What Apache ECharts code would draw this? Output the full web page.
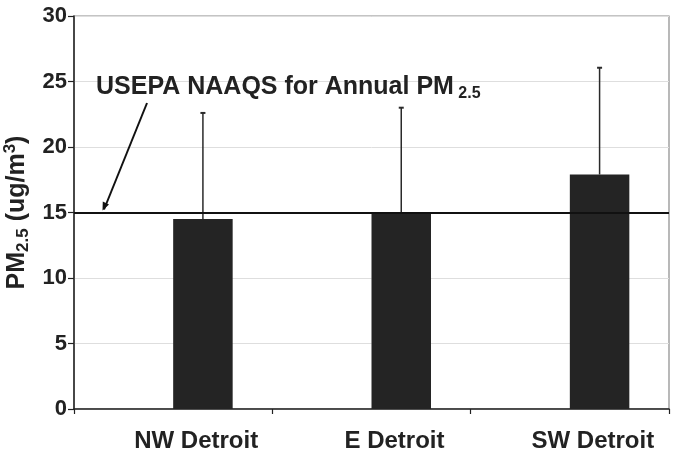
<!DOCTYPE html>
<html><head><meta charset="utf-8">
<script src="https://cdn.jsdelivr.net/npm/echarts@6/dist/echarts.min.js"></script>
<style>html,body{margin:0;padding:0;background:#fff}#c{width:675px;height:456px}</style>
</head><body><div id="c"></div>
<script>
const categories = ['NW Detroit', 'E Detroit', 'SW Detroit'];
const pmMeans = [14.5, 14.9, 17.9];
const pmUpper = [22.6, 23.0, 26.05];
const yTicks = [0, 5, 10, 15, 20, 25, 30];
const naaqsStandard = 15;
const annotationText = 'USEPA NAAQS for Annual PM';

const FONT = 'Liberation Sans, Arial, sans-serif';
const DARK = '#222';
const chart = echarts.init(document.getElementById('c'), null, {renderer: 'canvas'});

const option = {
  animation: false,
  backgroundColor: '#fff',
  grid: {left: 74, right: 6, top: 16, bottom: 47, show: true, borderColor: '#8a8a8a', borderWidth: 1.2,
         containLabel: false, outerBoundsMode: 'none'},
  xAxis: {
    type: 'category', data: categories,
    axisLine: {lineStyle: {color: DARK, width: 1.5}},
    axisTick: {show: true, length: 5, lineStyle: {color: DARK, width: 1.2}},
    axisLabel: {
      margin: 20,
      formatter: v => '{a|' + v + '}',
      rich: {a: {fontFamily: FONT, fontWeight: 'bold', fontSize: 24, color: DARK, lineHeight: 24, padding: [0, 0, 0, 46]}}
    }
  },
  yAxis: {
    type: 'value', min: yTicks[0], max: yTicks[yTicks.length - 1], interval: 5,
    axisLine: {show: true, lineStyle: {color: DARK, width: 1.5}},
    axisTick: {show: true, length: 6, lineStyle: {color: DARK, width: 1.2}},
    axisLabel: {fontFamily: FONT, fontWeight: 'bold', fontSize: 22, color: DARK, margin: 7},
    splitLine: {lineStyle: {color: '#dedede', width: 1}},
    name: '{a|PM}{b|2.5}{a| (ug/m}{c|3}{a|)}',
    nameLocation: 'middle', nameRotate: 90, nameGap: 38,
    nameTextStyle: {
      rich: {
        a: {fontFamily: FONT, fontWeight: 'bold', fontSize: 25, color: DARK, lineHeight: 30},
        b: {fontFamily: FONT, fontWeight: 'bold', fontSize: 17, color: DARK, lineHeight: 16, verticalAlign: 'bottom'},
        c: {fontFamily: FONT, fontWeight: 'bold', fontSize: 17, color: DARK, lineHeight: 16, verticalAlign: 'top'}
      }
    }
  },
  series: [
    {type: 'bar', data: categories.map(() => null), barWidth: '30%', barGap: '0%', itemStyle: {color: 'transparent'}},
    {
      type: 'bar', data: pmMeans, barWidth: '30%', barGap: '0%',
      itemStyle: {color: '#242424'},
      markLine: {
        silent: true, symbol: 'none', label: {show: false},
        lineStyle: {color: '#111', width: 2, type: 'solid'},
        data: [{yAxis: naaqsStandard}]
      },
      z: 2
    },
    {
      type: 'custom',
      data: pmMeans.map((m, i) => [i, m, pmUpper[i]]),
      encode: {x: 0, y: [1, 2]},
      z: 3,
      renderItem: function (params, api) {
        const idx = api.value(0);
        const band = api.size([1, 0])[0];
        const base = api.coord([idx, api.value(1)]);
        const top = api.coord([idx, api.value(2)]);
        const x = base[0] + band * 0.15;
        const cap = 2.5;
        return {
          type: 'group',
          children: [
            {type: 'line', shape: {x1: x, y1: base[1], x2: x, y2: top[1]}, style: {stroke: '#2a2a2a', lineWidth: 1.5}},
            {type: 'line', shape: {x1: x - cap, y1: top[1], x2: x + cap, y2: top[1]}, style: {stroke: '#2a2a2a', lineWidth: 2}}
          ]
        };
      }
    }
  ]
};
chart.setOption(option);

const y15 = chart.convertToPixel({yAxisIndex: 0}, naaqsStandard);
chart.setOption({
  graphic: [
    {
      type: 'text', left: 96, top: 75, z: 10,
      style: {
        text: '{a|' + annotationText + '}{b| 2.5}',
        rich: {
          a: {fontFamily: FONT, fontWeight: 'bold', fontSize: 25, fill: DARK, lineHeight: 28},
          b: {fontFamily: FONT, fontWeight: 'bold', fontSize: 16, fill: DARK, lineHeight: 12, verticalAlign: 'bottom'}
        }
      }
    },
    {
      type: 'line', z: 10,
      shape: {x1: 147, y1: 103, x2: 104, y2: y15 - 3},
      style: {stroke: '#111', lineWidth: 2}
    },
    {
      type: 'polygon', z: 10,
      shape: {points: [[102.5, y15 - 2], [102.8, y15 - 11], [109, y15 - 8]]},
      style: {fill: '#111'}
    }
  ]
});
</script></body></html>
